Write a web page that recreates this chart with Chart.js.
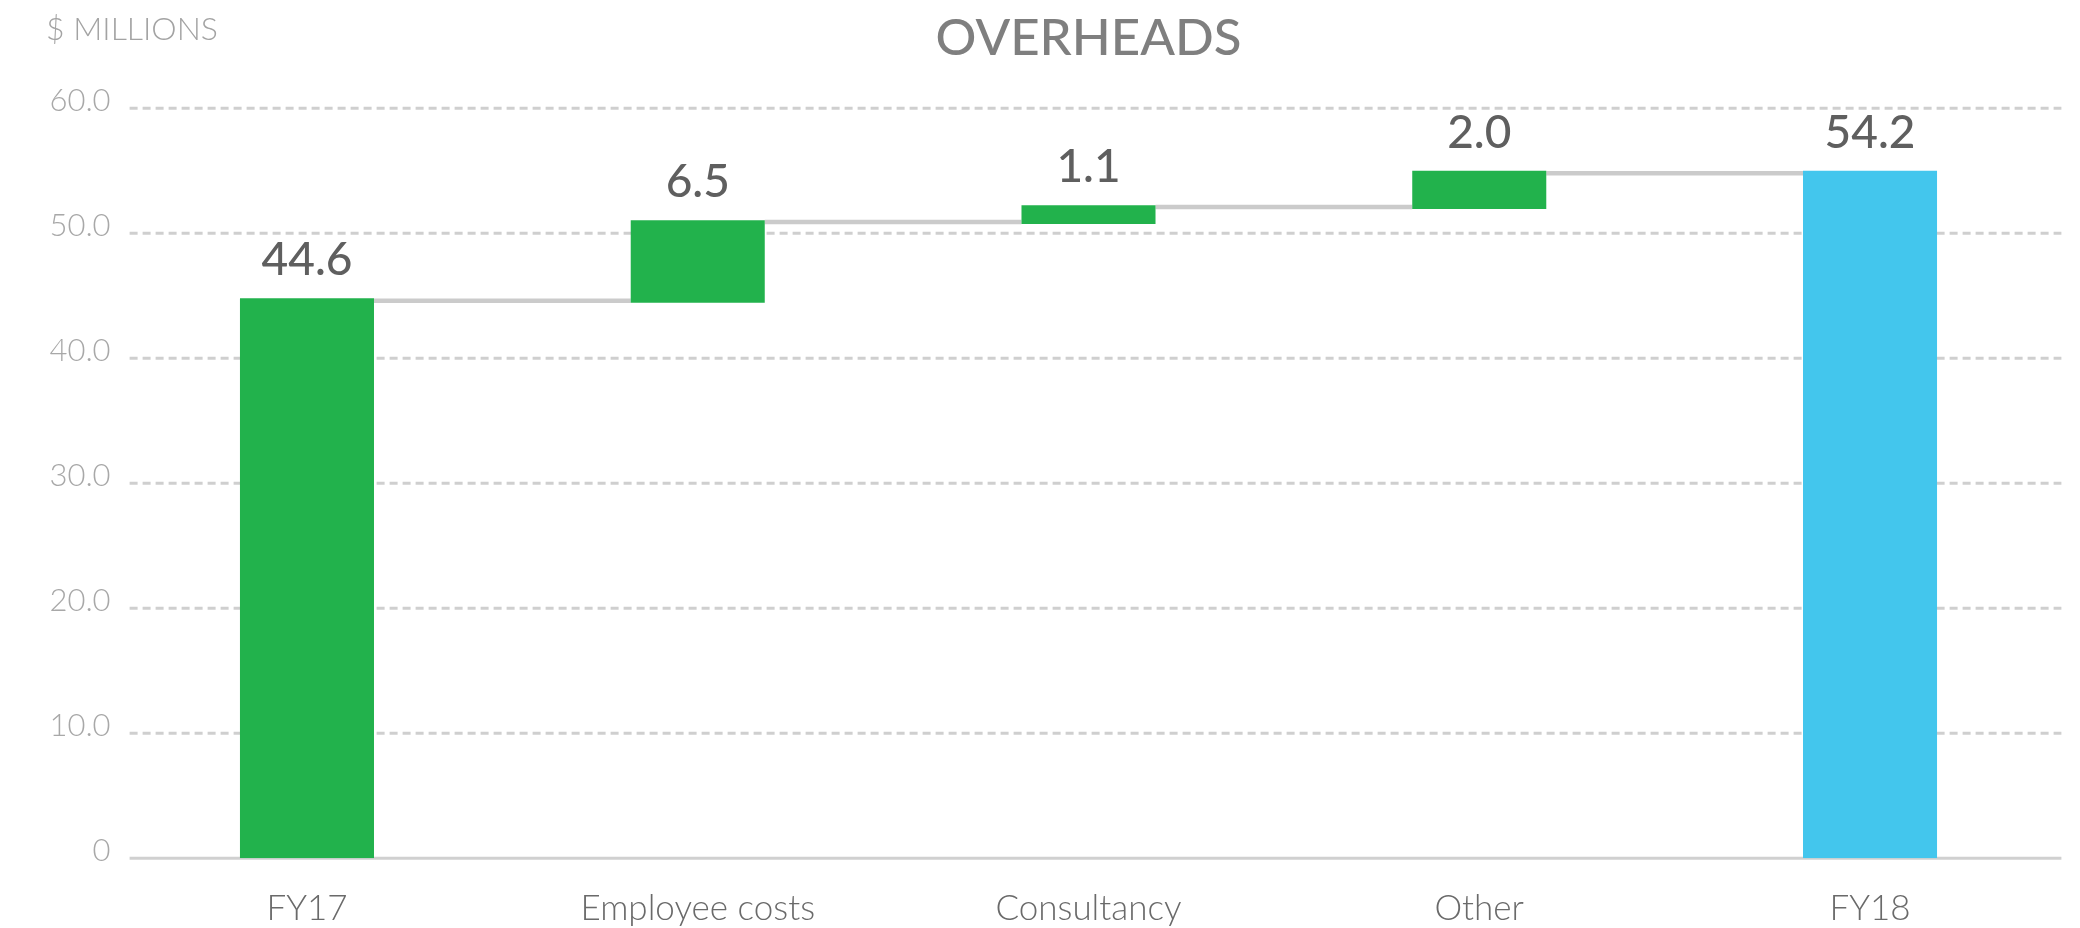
<!DOCTYPE html>
<html>
<head>
<meta charset="utf-8">
<title>Overheads</title>
<script src="https://cdn.jsdelivr.net/npm/chart.js@4.4.1/dist/chart.umd.min.js"></script>
<style>
    html, body { margin: 0; padding: 0; background: #ffffff; }
    #wrap { width: 2080px; height: 928px; }
</style>
</head>
<body>
<div id="wrap"><canvas id="grafico-overheads" width="2080" height="928"></canvas></div>
<script>
(function () {
    'use strict';

    // valores (US$ milhões)
    var categorias     = ['FY17', 'Employee costs', 'Consultancy', 'Other', 'FY18'];
    var inicioBarra    = [0, 44.45, 50.75, 51.95, 0];
    var fimBarra       = [44.8, 51.05, 52.25, 55.0, 55.0];
    var rotulosValor   = ['44.6', '6.5', '1.1', '2.0', '54.2'];
    var nivelConector  = [44.6, 50.9, 52.1, 54.8];
    var ticksY         = [0, 10, 20, 30, 40, 50, 60];
    var rotulosTickY   = ['0', '10.0', '20.0', '30.0', '40.0', '50.0', '60.0'];

    var coresBarra = ['#22b24c', '#22b24c', '#22b24c', '#22b24c', '#43c6ed'];
    var fonte = 'Lato, "Open Sans", sans-serif';

    var chartOverheads = null;

    var pluginWaterfall = {
        id: 'waterfall',
        beforeDatasetsDraw: function (chart) {
            var ctx = chart.ctx;
            var area = chart.chartArea;
            var y = chart.scales.y;
            var barras = chart.getDatasetMeta(0).data;
            var xIni = area.left + 18;
            var xFim = area.right - 4;

            ctx.save();
            // linhas de grade tracejadas
            ctx.strokeStyle = '#cfcfcf';
            ctx.lineWidth = 3;
            ctx.setLineDash([8, 5]);
            ticksY.forEach(function (v) {
                if (v === 0) return;
                var py = y.getPixelForValue(v);
                ctx.beginPath();
                ctx.moveTo(xIni, py);
                ctx.lineTo(xFim, py);
                ctx.stroke();
            });

            // eixo base
            ctx.setLineDash([]);
            ctx.strokeStyle = '#d0d0d0';
            var p0 = y.getPixelForValue(0);
            ctx.beginPath();
            ctx.moveTo(xIni, p0);
            ctx.lineTo(xFim, p0);
            ctx.stroke();

            // conectores entre as barras
            ctx.strokeStyle = '#cbcbcb';
            ctx.lineWidth = 4.4;
            for (var i = 0; i < nivelConector.length; i++) {
                var a = barras[i], b = barras[i + 1];
                var py2 = y.getPixelForValue(nivelConector[i]);
                ctx.beginPath();
                ctx.moveTo(a.x + a.width / 2, py2);
                ctx.lineTo(b.x - b.width / 2, py2);
                ctx.stroke();
            }
            ctx.restore();
        },
        afterDatasetsDraw: function (chart) {
            var ctx = chart.ctx;
            var barras = chart.getDatasetMeta(0).data;
            ctx.save();
            ctx.fillStyle = '#5f5f5f';
            ctx.font = '500 46px ' + fonte;
            ctx.textAlign = 'center';
            ctx.textBaseline = 'alphabetic';
            barras.forEach(function (bar, i) {
                var topo = Math.min(bar.y, bar.base);
                ctx.fillText(rotulosValor[i], bar.x, topo - 23);
            });

            // unidade no canto superior esquerdo
            ctx.fillStyle = '#a3a3a3';
            ctx.font = '300 32px ' + fonte;
            ctx.textAlign = 'left';
            ctx.textBaseline = 'middle';
            ctx.fillText('$ MILLIONS', 46, 30);
            ctx.restore();
        }
    };

    function initOverheads() {
        var canvas = document.getElementById('grafico-overheads');
        if (!canvas) return;

        var dados = categorias.map(function (c, i) { return [inicioBarra[i], fimBarra[i]]; });

        if (chartOverheads) { chartOverheads.destroy(); }

        chartOverheads = new Chart(canvas, {
            type: 'bar',
            data: {
                labels: categorias,
                datasets: [{
                    data: dados,
                    backgroundColor: coresBarra,
                    borderWidth: 0,
                    barPercentage: 1,
                    categoryPercentage: 0.343
                }]
            },
            options: {
                responsive: false,
                animation: false,
                devicePixelRatio: 1,
                layout: { padding: { left: 0, right: 14.6, top: 0, bottom: 0 } },
                plugins: {
                    legend: { display: false },
                    tooltip: { enabled: false },
                    title: {
                        display: true,
                        text: 'OVERHEADS',
                        fullSize: false,
                        color: '#7f7f7f',
                        font: { family: fonte, size: 51, weight: '500', lineHeight: 1.2 },
                        padding: { top: 8, bottom: 39.1 }
                    }
                },
                scales: {
                    x: {
                        grid: { display: false, drawTicks: false },
                        border: { display: false },
                        ticks: {
                            color: '#6a6a6a',
                            padding: 29,
                            font: { family: fonte, size: 35, weight: '300', lineHeight: 1.2 }
                        },
                        afterFit: function (scale) { scale.height = 69.7; }
                    },
                    y: {
                        min: 0,
                        max: 60,
                        grid: { display: false, drawTicks: false },
                        border: { display: false },
                        afterBuildTicks: function (scale) {
                            scale.ticks = ticksY.map(function (v) { return { value: v }; });
                        },
                        ticks: {
                            color: '#a8a8a8',
                            padding: 1,
                            labelOffset: -7,
                            font: { family: fonte, size: 31, weight: '300' },
                            callback: function (value) {
                                var i = ticksY.indexOf(value);
                                return i >= 0 ? rotulosTickY[i] : '';
                            }
                        },
                        afterFit: function (scale) { scale.width = 111.6; }
                    }
                }
            },
            plugins: [pluginWaterfall]
        });
    }

    function init() {
        if (typeof Chart === 'undefined') {
            console.warn('Chart.js não carregado.');
            return;
        }
        initOverheads();
    }

    if (document.readyState === 'loading') {
        document.addEventListener('DOMContentLoaded', init);
    } else {
        init();
    }
})();
</script>
</body>
</html>
